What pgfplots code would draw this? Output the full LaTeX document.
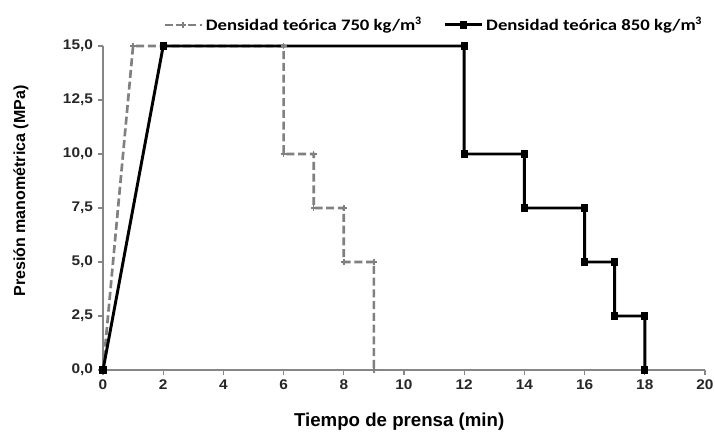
\documentclass[border=0pt]{standalone}
\usepackage{fontspec}
\setmainfont{Liberation Sans}
\newfontfamily\ticksf[FakeStretch=1.1]{Liberation Sans}
\newfontfamily\calib[FakeStretch=1.17]{Carlito}
\usepackage{pgfplots}
\pgfplotsset{compat=1.18}
\definecolor{axgray}{RGB}{134,134,134}
\definecolor{sergray}{RGB}{128,128,128}
\begin{document}
\begin{tikzpicture}
\path[use as bounding box] (-77.25pt,-47.25pt) rectangle (459pt,277.5pt);
\begin{axis}[
  scale only axis,
  at={(0,0)}, anchor=south west,
  width=451.5pt, height=243pt,
  xmin=0, xmax=20, ymin=0, ymax=15,
  xtick={0,2,...,20},
  ytick={0,2.5,5,7.5,10,12.5,15},
  axis x line*=bottom, axis y line*=left,
  axis line style={axgray, line width=0.8pt, -},
  tick style={axgray, line width=0.8pt},
  tick align=outside, major tick length=4pt,
  /pgf/number format/assume math mode=true,
  yticklabel style={/pgf/number format/.cd, use comma, fixed, fixed zerofill, precision=1},
  ticklabel style={font=\ticksf\fontsize{10.5}{12}\selectfont\bfseries, text=black!85},
  xlabel={Tiempo de prensa (min)},
  ylabel={Presión manométrica (MPa)},
  xlabel style={font=\fontsize{14}{16}\selectfont\bfseries, at={(axis description cs:0.492,-0.1605)}, anchor=center},
  ylabel style={font=\fontsize{12}{14}\selectfont\bfseries, at={(axis description cs:-0.1362,0.5525)}, anchor=center},
  legend columns=2,
  legend style={draw=none, fill=none, at={(0.55,1.065)}, anchor=center,
    font=\calib\fontsize{12}{14}\selectfont\bfseries,
    /tikz/every even column/.append style={column sep=14pt}},
  legend image code/.code={\draw[#1] (-10pt,0pt) -- (4pt,0pt) -- (18pt,0pt); \path[#1,solid] plot coordinates {(4pt,0pt)};},
  clip=false,
]
\addplot[sergray, line width=2pt, dash pattern=on 6pt off 2.8pt, mark=+, mark size=2.2pt, mark options={solid, line width=1.1pt}]
coordinates {(0,0) (1,15) (6,15) (6,10) (7,10) (7,7.5) (8,7.5) (8,5) (9,5) (9,0)};
\addlegendentry{Densidad teórica 750 kg/m$^{\mathbf 3}$}
\addplot[black, line width=2.2pt, mark=square*, mark size=1.6pt, mark options={solid}]
coordinates {(0,0) (2,15) (12,15) (12,10) (14,10) (14,7.5) (16,7.5) (16,5) (17,5) (17,2.5) (18,2.5) (18,0)};
\addlegendentry{Densidad teórica 850 kg/m$^{\mathbf 3}$}
\end{axis}
\end{tikzpicture}
\end{document}
